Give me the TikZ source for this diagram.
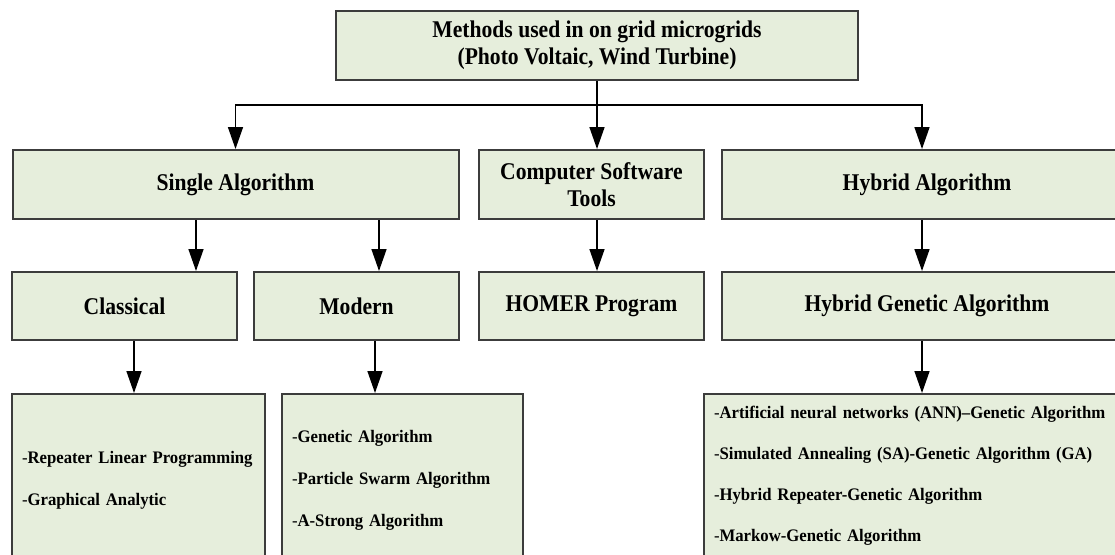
\documentclass[tikz,border=0pt]{standalone}
\usepackage{fontspec}
\setmainfont{Liberation Serif}[FakeStretch=0.9]
\newfontfamily\listfont{Liberation Serif}[FakeStretch=0.95, WordSpace=0.85, Ligatures=TeX]
\usetikzlibrary{arrows.meta, positioning}

\definecolor{boxfill}{RGB}{230,238,220}
\definecolor{boxline}{RGB}{60,60,60}

\tikzset{
  box/.style={draw=boxline, line width=2pt, fill=boxfill, inner sep=0pt,
    align=center, font=\fontsize{24}{27}\selectfont\bfseries},
  listbox/.style={draw=boxline, line width=2pt, fill=boxfill, inner xsep=10pt,
    inner ysep=0pt, align=left, font=\listfont\fontsize{17.6}{42}\selectfont},
  arr/.style={line width=1.5pt, -{Triangle[length=22pt,width=15pt]}}
}

\begin{document}
\begin{tikzpicture}[x=1pt, y=-1pt]
    \useasboundingbox (0,0) rectangle (1115,554);
    \clip (0,0) rectangle (1115,554);

    % Top
    \node[box, minimum width=522pt, minimum height=69pt] (methods) at (597,45.5)
        {Methods used in on grid microgrids\\(Photo Voltaic, Wind Turbine)};

    % Second row
    \node[box, minimum width=446pt, minimum height=69pt] (single) at (235.5,184.5) {Single Algorithm};
    \node[box, minimum width=225pt, minimum height=69pt] (software) at (591.5,184.5) {Computer Software\\Tools};
    \node[box, minimum width=410pt, minimum height=69pt] (hybrid) at (927,184.5) {Hybrid Algorithm};

    % Third row
    \node[box, minimum width=225pt, minimum height=68pt] (classical) at (124.5,306) {Classical};
    \node[box, minimum width=205pt, minimum height=68pt] (modern) at (356.5,306) {Modern};
    \node[box, minimum width=225pt, minimum height=68pt] (homer) at (591.5,306) {HOMER Program};
    \node[box, minimum width=410pt, minimum height=68pt] (hga) at (927,306) {Hybrid Genetic Algorithm};

    % Lists
    \node[listbox, text width=233pt, minimum height=172pt] (classlist) at (138.5,480)
        {\textmd{-}\textbf{Repeater Linear Programming}\\
         \textmd{-}\textbf{Graphical Analytic}};
    \node[listbox, text width=221pt, minimum height=172pt] (modlist) at (402.5,480)
        {\textmd{-}\textbf{Genetic Algorithm}\\
         \textmd{-}\textbf{Particle Swarm Algorithm}\\
         \textmd{-}\textbf{A-Strong Algorithm}};
    \node[listbox, text width=420pt, minimum height=164pt, font=\listfont\fontsize{17.6}{41}\selectfont] (hgalist) at (924,476)
        {\textmd{-}\textbf{Artificial neural networks (ANN)--Genetic Algorithm}\\
         \textmd{-}\textbf{Simulated Annealing (SA)-Genetic Algorithm (GA)}\\
         \textmd{-}\textbf{Hybrid Repeater-Genetic Algorithm}\\
         \textmd{-}\textbf{Markow-Genetic Algorithm}};

    % Connectors
    \coordinate (bus) at (597,105);
    \coordinate (xa) at (196,0);
    \coordinate (xb) at (379,0);
    \coordinate (xc) at (134,0);
    \coordinate (xd) at (375,0);
    \coordinate (xe) at (922,0);

    \draw[line width=1.5pt] (methods.south) -- (bus);
    \draw[arr] (bus) -| (single.north);
    \draw[arr] (bus) -| (hybrid.north -| xe);
    \draw[arr] (bus) -- (bus |- software.north);

    \draw[arr] (single.south -| xa) -- (classical.north -| xa);
    \draw[arr] (single.south -| xb) -- (modern.north -| xb);
    \draw[arr] (software.south -| bus) -- (homer.north -| bus);
    \draw[arr] (hybrid.south -| xe) -- (hga.north -| xe);

    \draw[arr] (classical.south -| xc) -- (classlist.north -| xc);
    \draw[arr] (modern.south -| xd) -- (modlist.north -| xd);
    \draw[arr] (hga.south -| xe) -- (hgalist.north -| xe);
\end{tikzpicture}
\end{document}
